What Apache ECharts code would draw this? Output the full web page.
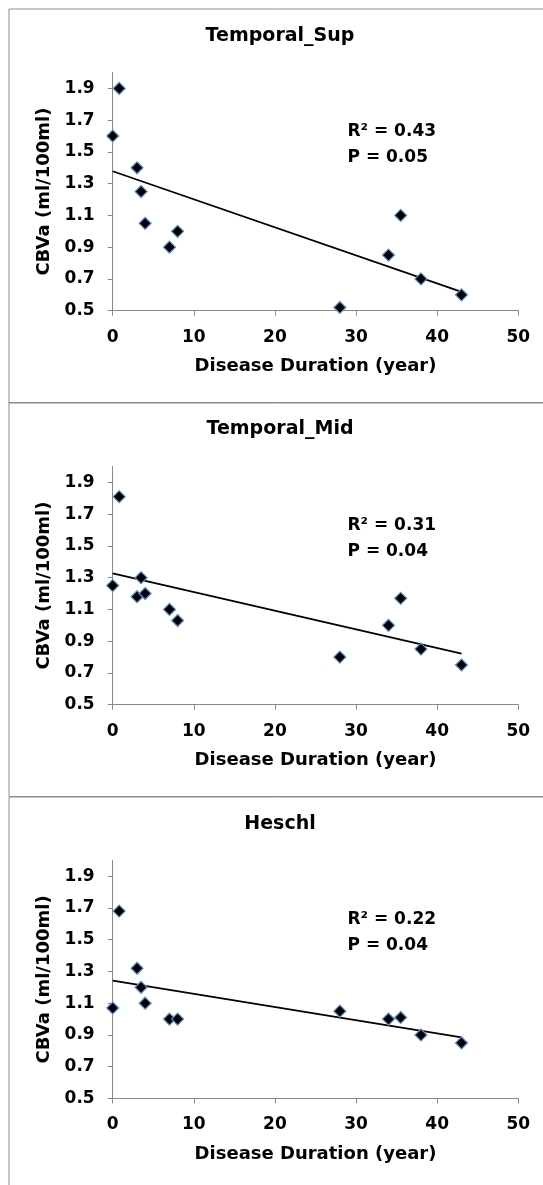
<!DOCTYPE html>
<html>
<head>
<meta charset="utf-8">
<script src="https://cdn.jsdelivr.net/npm/echarts@6/dist/echarts.min.js"></script>
<style>
  html, body { margin: 0; padding: 0; background: #fff; }
  #chart { width: 543px; height: 1185px; }
</style>
</head>
<body>
<div id="chart"></div>
<script>
// disease duration (years), same patients in all three regions
var durations = [0.8, 0, 3, 3.5, 4, 7, 8, 28, 34, 35.5, 38, 43];
// CBVa per region
var supValues = [1.9, 1.6, 1.4, 1.25, 1.05, 0.9, 1.0, 0.52, 0.85, 1.1, 0.7, 0.6];
var midValues = [1.81, 1.25, 1.18, 1.3, 1.2, 1.1, 1.03, 0.8, 1.0, 1.17, 0.85, 0.75];
var heschlValues = [1.68, 1.07, 1.32, 1.2, 1.1, 1.0, 1.0, 1.05, 1.0, 1.01, 0.9, 0.85];
// trend line ends at x = 0 and x = 43
var trendX = [0, 43];
var supTrend = [1.378, 0.618];
var midTrend = [1.327, 0.822];
var heschlTrend = [1.242, 0.885];

var regionNames = ['Temporal_Sup', 'Temporal_Mid', 'Heschl'];
var r2Labels = ['R² = 0.43', 'R² = 0.31', 'R² = 0.22'];
var pLabels = ['P = 0.05', 'P = 0.04', 'P = 0.04'];
var yTicks = [0.5, 0.7, 0.9, 1.1, 1.3, 1.5, 1.7, 1.9];

var valuesList = [supValues, midValues, heschlValues];
var trendList = [supTrend, midTrend, heschlTrend];

var font = '"DejaVu Sans", sans-serif';
var axisGray = '#898989';
var panelTop = [9, 402.5, 797];
var gridTop = [72.5, 466.5, 860.3];

var grids = [], xAxes = [], yAxes = [], series = [], graphics = [];

for (var i = 0; i < 3; i++) {
    grids.push({left: 112.7, top: gridTop[i], width: 405.6, height: 238.2});
    xAxes.push({
        gridIndex: i,
        type: 'value',
        min: 0,
        max: 50,
        interval: 10,
        name: 'Disease Duration (year)',
        nameLocation: 'middle',
        nameGap: 47,
        nameTextStyle: {color: '#000', fontSize: 18, fontWeight: 'bold', fontFamily: font},
        axisLine: {lineStyle: {color: axisGray, width: 1}},
        axisTick: {length: 5, lineStyle: {color: axisGray}},
        axisLabel: {color: '#000', fontSize: 17, fontWeight: 'bold', fontFamily: font, margin: 18},
        splitLine: {show: false}
    });
    yAxes.push({
        gridIndex: i,
        type: 'value',
        min: 0.5,
        max: 2.0,
        name: 'CBVa (ml/100ml)',
        nameLocation: 'middle',
        nameGap: 55,
        nameTextStyle: {color: '#000', fontSize: 18, fontWeight: 'bold', fontFamily: font},
        axisLine: {show: true, lineStyle: {color: axisGray, width: 1}},
        axisTick: {show: true, length: 5, customValues: yTicks, lineStyle: {color: axisGray}},
        axisLabel: {
            color: '#000', fontSize: 17, fontWeight: 'bold', fontFamily: font, margin: 18,
            customValues: yTicks,
            formatter: function (v) { return v.toFixed(1); }
        },
        splitLine: {show: false}
    });

    var pts = [];
    for (var k = 0; k < durations.length; k++) {
        pts.push([durations[k], valuesList[i][k]]);
    }
    series.push({
        type: 'line',
        xAxisIndex: i,
        yAxisIndex: i,
        data: [[trendX[0], trendList[i][0]], [trendX[1], trendList[i][1]]],
        symbol: 'none',
        lineStyle: {color: '#000', width: 1.8},
        z: 2,
        silent: true
    });
    series.push({
        type: 'scatter',
        xAxisIndex: i,
        yAxisIndex: i,
        data: pts,
        symbol: 'diamond',
        symbolSize: 12,
        itemStyle: {color: '#000', borderColor: '#5b8fd0', borderWidth: 1.2, opacity: 1},
        z: 3
    });

    // panel frame
    graphics.push({
        type: 'rect',
        shape: {x: 9, y: panelTop[i], width: 560, height: 394},
        style: {fill: 'none', stroke: '#8c8c8c', lineWidth: 1},
        z: 0
    });
    // title
    graphics.push({
        type: 'text',
        x: 280,
        y: panelTop[i] + 27,
        style: {
            text: regionNames[i], font: 'bold 19px ' + font, fill: '#000',
            align: 'center', verticalAlign: 'middle', textAlign: 'center', textVerticalAlign: 'middle'
        },
        z: 5
    });
    // fit stats
    graphics.push({
        type: 'text',
        x: 347.5,
        y: gridTop[i] + 59,
        style: {
            text: r2Labels[i], font: 'bold 17px ' + font, fill: '#000',
            align: 'left', verticalAlign: 'middle', textAlign: 'left', textVerticalAlign: 'middle'
        },
        z: 5
    });
    graphics.push({
        type: 'text',
        x: 347.5,
        y: gridTop[i] + 85.5,
        style: {
            text: pLabels[i], font: 'bold 17px ' + font, fill: '#000',
            align: 'left', verticalAlign: 'middle', textAlign: 'left', textVerticalAlign: 'middle'
        },
        z: 5
    });
}

var myChart = echarts.init(document.getElementById('chart'));
myChart.setOption({
    backgroundColor: '#fff',
    animation: false,
    grid: grids,
    xAxis: xAxes,
    yAxis: yAxes,
    series: series,
    graphic: {elements: graphics}
});
</script>
</body>
</html>
